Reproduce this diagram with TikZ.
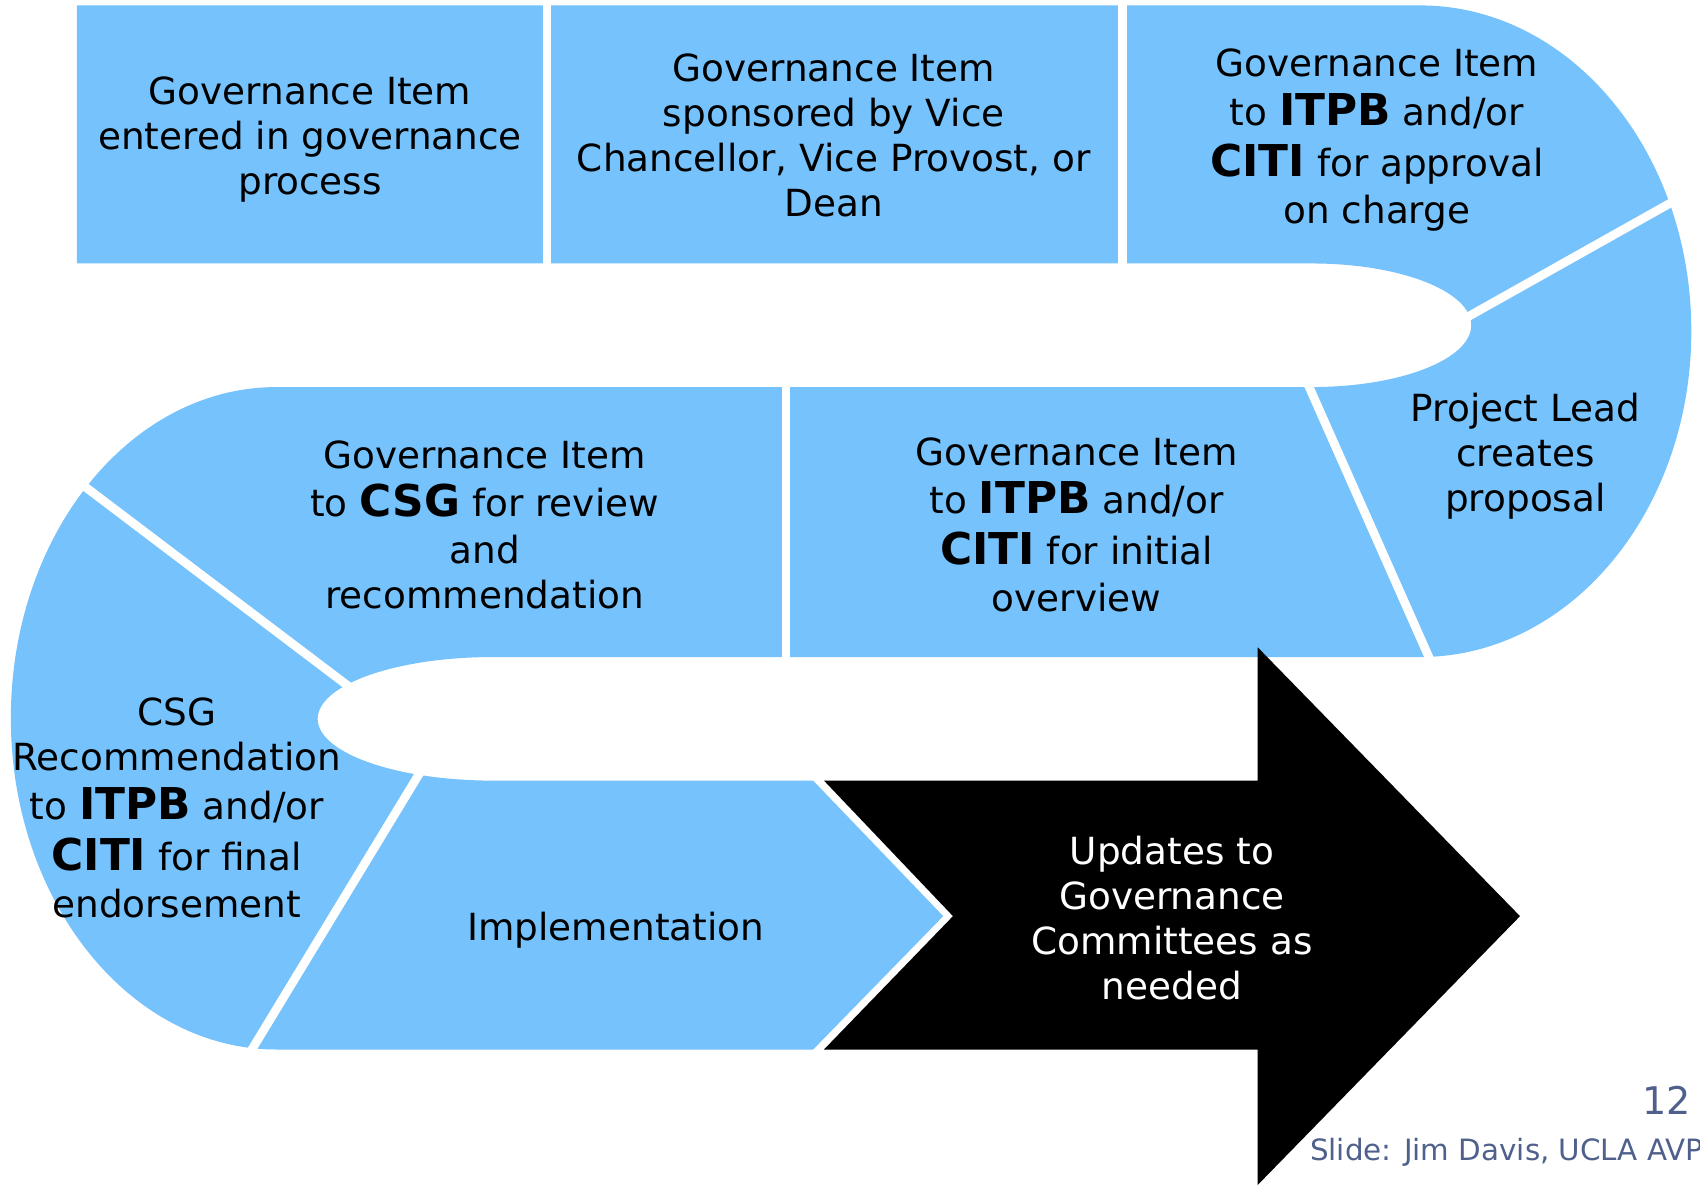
\documentclass[tikz,border=0pt]{standalone}
\usepackage{fontspec}
\setmainfont{DejaVu Sans}
\usepackage{xcolor}
\usetikzlibrary{positioning}
\definecolor{stepblue}{RGB}{117,194,252}
\definecolor{slidegray}{RGB}{80,96,140}
\newcommand{\acr}[1]{{\fontsize{11.5}{11.8}\selectfont\bfseries #1}}

\begin{document}
\begin{tikzpicture}[x=0.01cm,y=-0.01cm,
	steptext/.style={align=center,font=\fontsize{9.8}{11.8}\selectfont,text=black},
	gap/.style={white,line width=0.08cm}]
	% Frame
	\useasboundingbox (0,0) rectangle (1568,1093);
	\clip (0,0) rectangle (1568,1093);
	
	% Serpentine band
	\fill[stepblue] (71,5) -- (1310,5)
		arc[start angle=-90,end angle=90,x radius=250,y radius=300.5]
		-- (455,606) arc[start angle=-90,end angle=-270,x radius=162,y radius=57]
		-- (750,720) -- (870,845) -- (750,968) -- (255,968)
		arc[start angle=90,end angle=270,x radius=245,y radius=305.5]
		-- (1210,357) arc[start angle=90,end angle=-90,x radius=147,y radius=57]
		-- (71,243) -- cycle;
	
	% Dividers
	\foreach \xa/\ya/\xb/\yb in {504.5/0/504.5/250, 1035.5/0/1035.5/250, 1340/300/1575/168,
		1200/340/1325/622, 725/350/725/615, 60/435/340/647, 395/700/222/985} {
		\draw[gap] (\xa,\ya) -- (\xb,\yb);
	}
	
	% Arrow
	\fill[black] (760,720) -- (1160,720) -- (1160,597) -- (1402,845) -- (1160,1093)
		-- (1160,968) -- (760,968) -- (879,845) -- cycle;
	
	% Labels
	\node[steptext] (entered) at (286,129) {Governance Item\\entered in governance\\process};
	\node[steptext] (sponsored) at (769,125) {Governance Item\\sponsored by Vice\\Chancellor, Vice Provost, or\\Dean};
	\node[steptext] (approval) at (1270,129) {Governance Item\\[1pt]to \acr{ITPB} and/or\\[1.5pt]\acr{CITI} for approval\\[0.5pt]on charge};
	\node[steptext] (proposal) at (1407,421) {Project Lead\\creates\\proposal};
	\node[steptext] (overview) at (993,484) {Governance Item\\[1pt]to \acr{ITPB} and/or\\[1.5pt]\acr{CITI} for initial\\[0.5pt]overview};
	\node[steptext] (review) at (447,484) {Governance Item\\[1pt]to \acr{CSG} for review\\[0.5pt]and\\recommendation};
	\node[steptext] (endorse) at (163,745) {CSG\\Recommendation\\[1pt]to \acr{ITPB} and/or\\[1.5pt]\acr{CITI} for final\\[0.5pt]endorsement};
	\node[steptext] (implement) at (568,858) {Implementation};
	\node[steptext,text=white] (updates) at (1081,847) {Updates to\\Governance\\Committees as\\needed};
	
	% Footer
	\node[text=slidegray,font=\fontsize{10}{12}\selectfont] (pagenum) at (1537,1015) {12};
	\node[text=slidegray,font=\fontsize{7.7}{9}\selectfont,anchor=west] (credit) at (1196,1063) {Slide: Jim Davis, UCLA AVP};
\end{tikzpicture}
\end{document}
